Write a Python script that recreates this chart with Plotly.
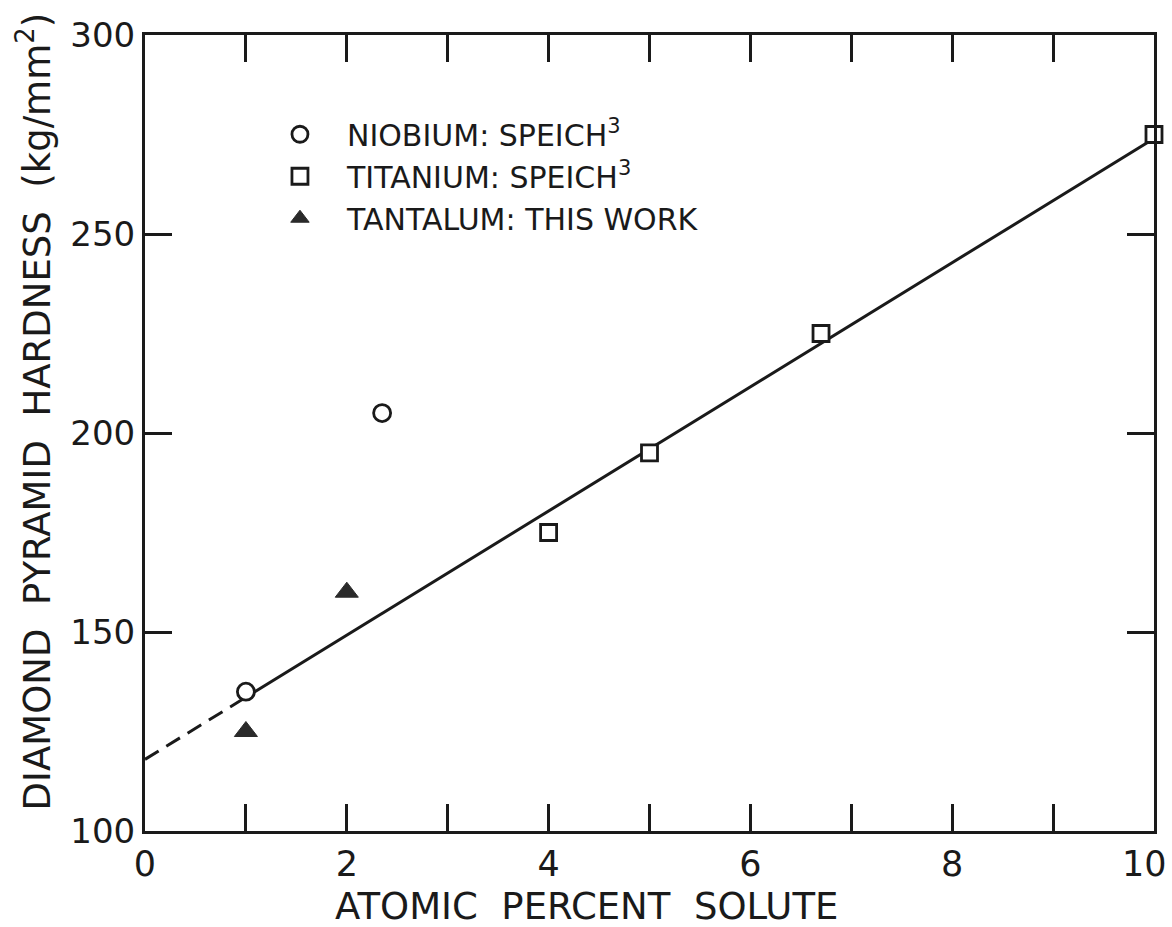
import plotly.graph_objects as go

# Data
nb_x = [1.0, 2.35]
nb_y = [135, 205]
ti_x = [4.0, 5.0, 6.7, 10.0]
ti_y = [175, 195, 225, 275]
ta_x = [1.0, 2.0]
ta_y = [125, 160]
fit_dash_x = [0, 1.0]
fit_dash_y = [118, 133.6]
fit_solid_x = [1.0, 10.0]
fit_solid_y = [133.6, 274]

x_tickvals = [0, 2, 4, 6, 8]
x_ticktext = ["0", "2", "4", "6", "8"]
x_last_val = 10
x_last_label = "10"   # drawn as an annotation so it can sit inside the page edge
y_tickvals = [100, 150, 200, 250, 300]

series_names = ["NIOBIUM: SPEICH<sup>3</sup>", "TITANIUM: SPEICH<sup>3</sup>", "TANTALUM: THIS WORK"]
x_title = "ATOMIC  PERCENT  SOLUTE"
y_title = "DIAMOND  PYRAMID  HARDNESS  (kg/mm<sup>2</sup>)"

FONT = "DejaVu Sans"
INK = "#1a1a1a"
fig = go.Figure()

fig.add_trace(go.Scatter(x=fit_dash_x, y=fit_dash_y, mode="lines",
                         line=dict(color=INK, width=3, dash="16px,9px"),
                         showlegend=False, hoverinfo="skip"))
fig.add_trace(go.Scatter(x=fit_solid_x, y=fit_solid_y, mode="lines",
                         line=dict(color=INK, width=3),
                         showlegend=False, hoverinfo="skip"))

fig.add_trace(go.Scatter(x=nb_x, y=nb_y, mode="markers", name=series_names[0],
                         marker=dict(symbol="circle", size=17, color="white",
                                     line=dict(color=INK, width=2.8)),
                         cliponaxis=False))
fig.add_trace(go.Scatter(x=ti_x, y=ti_y, mode="markers", name=series_names[1],
                         marker=dict(symbol="square", size=16, color="white",
                                     line=dict(color=INK, width=2.8)),
                         cliponaxis=False))
fig.add_trace(go.Scatter(x=ta_x, y=ta_y, mode="markers", name=series_names[2],
                         marker=dict(symbol="triangle-up", size=20, color="#2a2a2a",
                                     line=dict(color="#2a2a2a", width=1)),
                         cliponaxis=False))

fig.update_layout(
    width=1172, height=927,
    margin=dict(l=145, r=18, t=35, b=96, autoexpand=False),
    paper_bgcolor="white", plot_bgcolor="white",
    font=dict(family=FONT, color=INK),
    legend=dict(x=0.107, y=0.908, xanchor="left", yanchor="top",
                font=dict(size=30, family=FONT, color=INK),
                bgcolor="rgba(0,0,0,0)", itemsizing="trace", itemwidth=84,
                tracegroupgap=0),
    annotations=[
        dict(text=x_title, xref="paper", yref="paper", x=0.438, y=0,
             xanchor="center", yanchor="middle", yshift=-75, showarrow=False,
             font=dict(size=37, family=FONT, color=INK)),
        dict(text=y_title, xref="paper", yref="paper", x=0, y=0.527,
             xanchor="center", yanchor="middle", xshift=-110, textangle=-90,
             showarrow=False, font=dict(size=37, family=FONT, color=INK)),
        dict(text=x_last_label, xref="x", yref="paper", x=x_last_val, y=0,
             xanchor="right", yanchor="middle", xshift=15, yshift=-33,
             showarrow=False, font=dict(size=35, family=FONT, color=INK)),
    ],
)
fig.update_xaxes(range=[0, 10], tickvals=x_tickvals, ticktext=x_ticktext,
                 ticks="inside", ticklen=27, tickwidth=3, tickcolor=INK,
                 minor=dict(dtick=1, tick0=0, ticks="inside", ticklen=27,
                            tickwidth=3, tickcolor=INK, showgrid=False),
                 showline=True, linecolor=INK, linewidth=3, mirror="allticks",
                 showgrid=False, zeroline=False, automargin=False,
                 tickfont=dict(size=35, family=FONT, color=INK))
fig.update_yaxes(range=[100, 300], tickvals=y_tickvals,
                 ticks="inside", ticklen=27, tickwidth=3, tickcolor=INK,
                 showline=True, linecolor=INK, linewidth=3, mirror="allticks",
                 showgrid=False, zeroline=False, automargin=False,
                 tickfont=dict(size=34, family=FONT, color=INK))

fig.write_html("out.html")
